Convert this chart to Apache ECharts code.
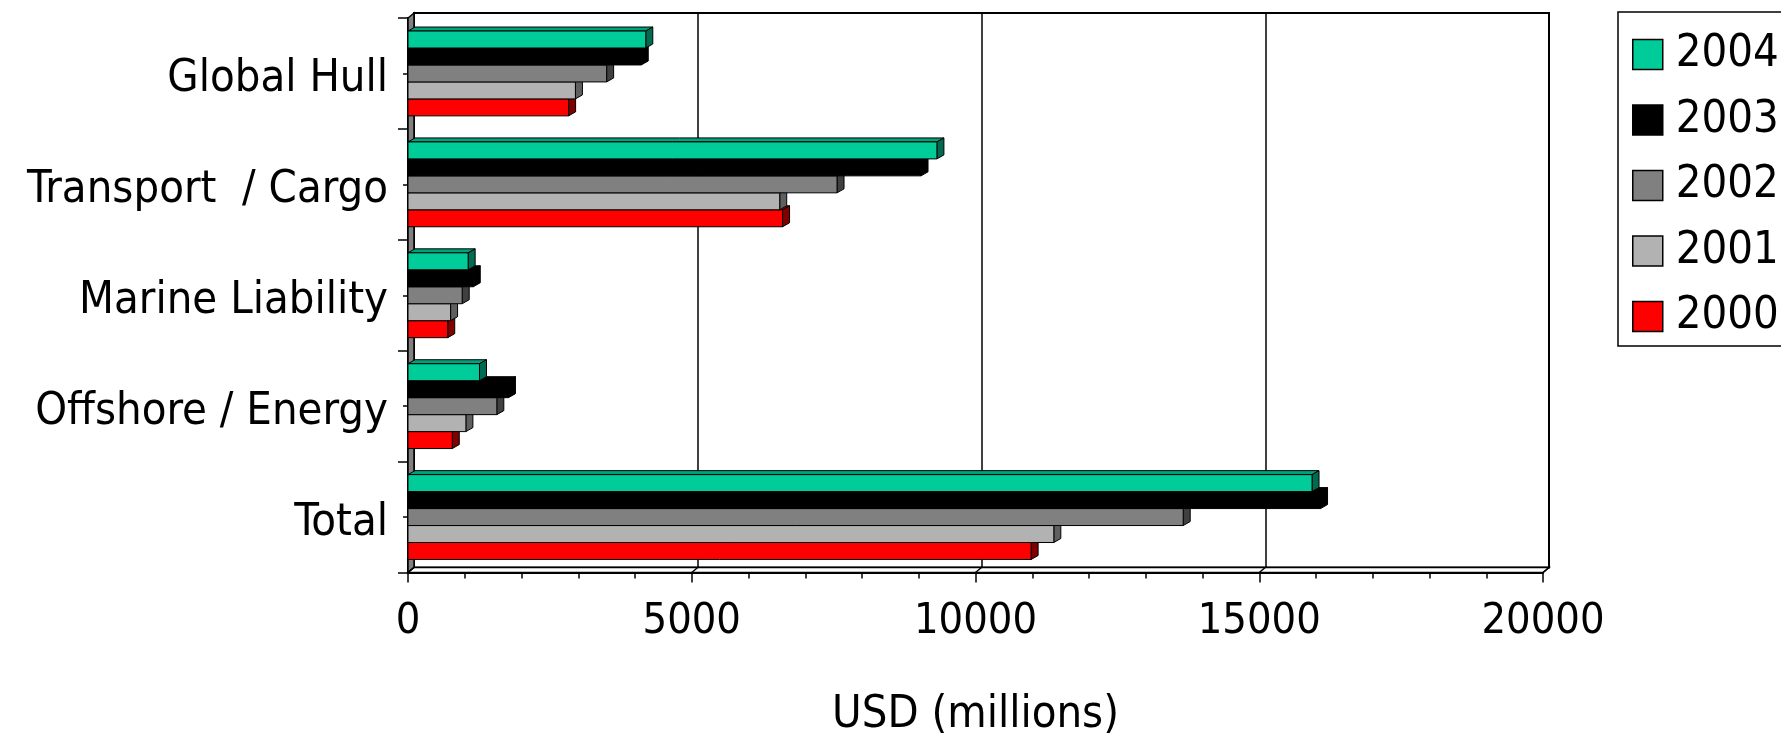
<!DOCTYPE html>
<html>
<head>
<meta charset="utf-8">
<title>Marine insurance premiums by line, 2000–2004</title>
<script src="https://cdn.jsdelivr.net/npm/echarts/dist/echarts.min.js"></script>
<style>
  html, body { margin: 0; padding: 0; background: #fff; }
  #chart { width: 1781px; height: 734px; }
</style>
</head>
<body>
<div id="chart"></div>
<script>
// Lines of business, top to bottom
const categories = ['Global Hull', 'Transport  / Cargo', 'Marine Liability', 'Offshore / Energy', 'Total'];

// Premiums, USD millions
const years = ['2004', '2003', '2002', '2001', '2000'];
const v2004 = [4190, 9320, 1060, 1260, 15930];
const v2003 = [4110, 9040, 1150, 1770, 16080];
const v2002 = [3500, 7560, 955, 1565, 13660];
const v2001 = [2950, 6550, 750, 1020, 11380];
const v2000 = [2830, 6600, 700, 780, 10980];

// Value axis ticks
const xTicks = [0, 5000, 10000, 15000, 20000];
const axisTitle = 'USD (millions)';

const FONT = "'DejaVu Sans Condensed', 'DejaVu Sans', sans-serif";

// Face colours per year: front, top, side
const palette = {
  '2004': ['#00CC99', '#00A27A', '#006B50'],
  '2003': ['#000000', '#000000', '#000000'],
  '2002': ['#808080', '#666666', '#404040'],
  '2001': ['#B2B2B2', '#999999', '#5F5F5F'],
  '2000': ['#FF0000', '#CC0000', '#800000']
};

const GAP = 0.235;      // share of each band left empty
const BAR_DX = 7, BAR_DY = 4;   // bar depth
const WALL_DX = 6, WALL_DY = 5; // wall / floor depth

function barRenderer(slot, colors) {
  return function (params, api) {
    const cat = api.value(1);
    const val = api.value(0);
    const p0 = api.coord([0, cat]);
    const p1 = api.coord([val, cat]);
    const band = api.size([0, 1])[1];
    const groupH = band * (1 - GAP);
    const h = groupH / years.length;
    const y0 = p0[1] - groupH / 2 + slot * h;
    const y1 = y0 + h;
    const x0 = p0[0], x1 = p1[0];
    const edge = { stroke: '#000', lineWidth: 1 };
    return {
      type: 'group',
      children: [
        { type: 'polygon',
          shape: { points: [[x0, y0], [x0 + BAR_DX, y0 - BAR_DY], [x1 + BAR_DX, y0 - BAR_DY], [x1, y0]] },
          style: Object.assign({ fill: colors[1] }, edge) },
        { type: 'polygon',
          shape: { points: [[x1, y0], [x1 + BAR_DX, y0 - BAR_DY], [x1 + BAR_DX, y1 - BAR_DY], [x1, y1]] },
          style: Object.assign({ fill: colors[2] }, edge) },
        { type: 'rect',
          shape: { x: x0, y: y0, width: x1 - x0, height: h },
          style: Object.assign({ fill: colors[0] }, edge) }
      ]
    };
  };
}

// Side wall and floor of the 3D box, built from the front grid's extent
function wallRenderer(params, api) {
  const cs = params.coordSys;
  const x = cs.x, y = cs.y, w = cs.width, h = cs.height;
  const yb = y + h;
  const children = [
    { type: 'polygon',
      shape: { points: [[x, yb], [x, y], [x + WALL_DX, y - WALL_DY], [x + WALL_DX, yb - WALL_DY]] },
      style: { fill: '#808080', stroke: '#000', lineWidth: 1.5 } },
    { type: 'polygon',
      shape: { points: [[x, yb], [x + WALL_DX, yb - WALL_DY], [x + w + WALL_DX, yb - WALL_DY], [x + w, yb]] },
      style: { fill: '#fff', stroke: '#000', lineWidth: 1.5 } }
  ];
  xTicks.forEach(function (t) {
    const px = api.coord([t, 0])[0];
    children.push({ type: 'line',
      shape: { x1: px, y1: yb, x2: px + WALL_DX, y2: yb - WALL_DY },
      style: { stroke: '#000', lineWidth: 1.5 } });
  });
  return { type: 'group', children: children };
}

const seriesByYear = { '2004': v2004, '2003': v2003, '2002': v2002, '2001': v2001, '2000': v2000 };

const series = [{
  type: 'custom',
  name: 'box',
  xAxisIndex: 0, yAxisIndex: 0,
  renderItem: wallRenderer,
  data: [[0, 0]],
  encode: { x: 0, y: 1 },
  silent: true,
  clip: false,
  z: 1
}];

// Lowest bar of each group first so the ones above overlap its top face
years.slice().reverse().forEach(function (yr) {
  const slot = years.indexOf(yr);
  series.push({
    type: 'custom',
    name: yr,
    xAxisIndex: 0, yAxisIndex: 0,
    renderItem: barRenderer(slot, palette[yr]),
    itemStyle: { color: palette[yr][0], borderColor: '#000', borderWidth: 1.5 },
    data: seriesByYear[yr].map(function (v, i) { return [v, i]; }),
    encode: { x: 0, y: 1 },
    clip: false,
    z: 2
  });
});

const chart = echarts.init(document.getElementById('chart'), null, { renderer: 'canvas' });

chart.setOption({
  animation: false,
  backgroundColor: '#fff',
  textStyle: { fontFamily: FONT },
  grid: [
    { left: 408, top: 18, width: 1135, height: 554.5, containLabel: false, outerBoundsMode: 'none' },
    { left: 414, top: 13, width: 1135, height: 554.5, containLabel: false, outerBoundsMode: 'none',
      show: true, backgroundColor: '#fff', borderColor: '#000', borderWidth: 2 }
  ],
  xAxis: [
    { type: 'value', gridIndex: 0, min: xTicks[0], max: xTicks[xTicks.length - 1], interval: 5000,
      axisLine: { show: true, lineStyle: { color: '#000', width: 2 } },
      axisTick: { show: true, length: 10, lineStyle: { color: '#000', width: 1.5 } },
      minorTick: { show: true, splitNumber: 5, length: 6, lineStyle: { color: '#000', width: 1.5 } },
      splitLine: { show: false },
      axisLabel: { fontFamily: FONT, fontSize: 43, lineHeight: 43, color: '#000', margin: 28,
        formatter: function (v) { return String(v); } },
      name: axisTitle, nameLocation: 'middle', nameGap: 120,
      nameTextStyle: { fontFamily: FONT, fontSize: 45, lineHeight: 45, color: '#000' } },
    { type: 'value', gridIndex: 1, min: xTicks[0], max: xTicks[xTicks.length - 1], interval: 5000,
      axisLine: { show: false }, axisTick: { show: false }, axisLabel: { show: false },
      splitLine: { show: true, lineStyle: { color: '#000', width: 1.5 } } }
  ],
  yAxis: [
    { type: 'category', gridIndex: 0, data: categories, inverse: true, position: 'left',
      axisLine: { show: true, lineStyle: { color: '#000', width: 2 } },
      axisTick: { show: true, length: 10, lineStyle: { color: '#000', width: 1.5 } },
      axisLabel: { fontFamily: FONT, fontSize: 45, color: '#000', margin: 20,
        verticalAlign: 'top', lineHeight: 12 } },
    { type: 'value', gridIndex: 0, min: 0, max: categories.length, interval: 0.5, position: 'left',
      axisLine: { show: false },
      axisTick: { show: true, length: 5, lineStyle: { color: '#000', width: 1.5 } },
      axisLabel: { show: false }, splitLine: { show: false } },
    { type: 'value', gridIndex: 1, show: false }
  ],
  legend: {
    orient: 'vertical', left: 1618, top: 12,
    padding: [20, 12, 7, 14],
    itemWidth: 30, itemHeight: 30, itemGap: 20.5,
    borderColor: '#000', borderWidth: 1.5,
    icon: 'rect',
    itemStyle: { borderColor: '#000', borderWidth: 1.5 },
    textStyle: { fontFamily: FONT, fontSize: 45, lineHeight: 30, color: '#000', padding: [0, 0, 0, 8] },
    data: years
  },
  series: series
});
</script>
</body>
</html>
